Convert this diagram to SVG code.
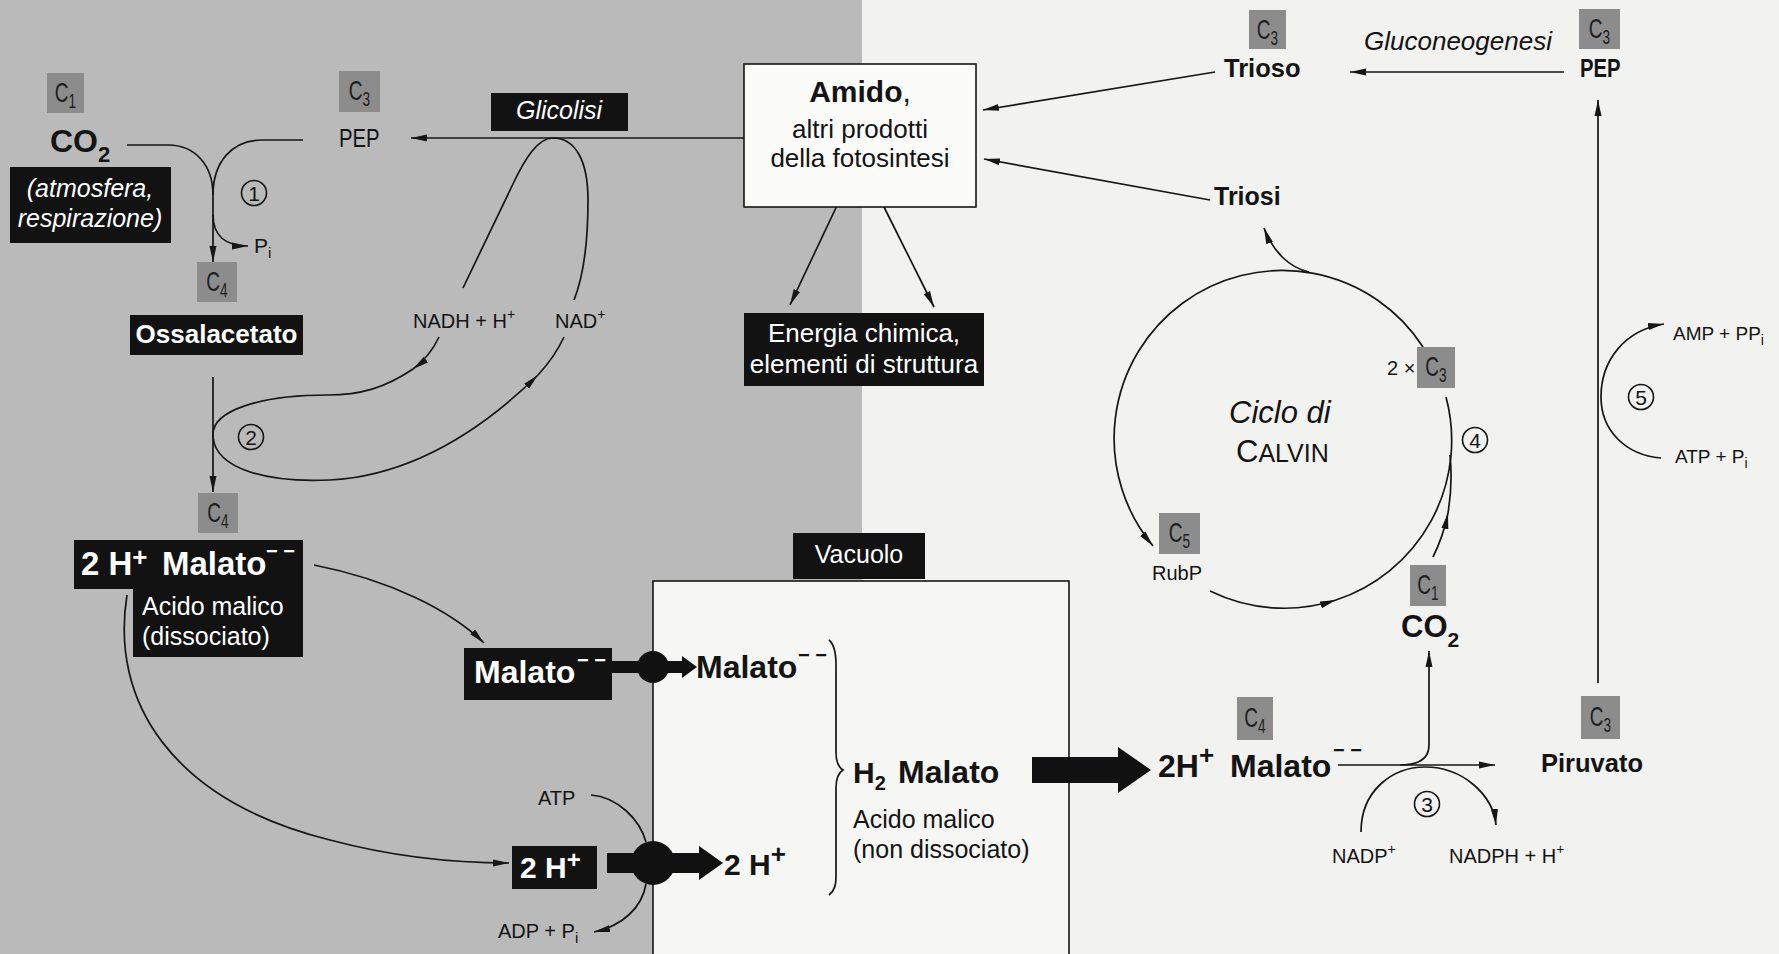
<svg xmlns="http://www.w3.org/2000/svg" width="1779" height="954" viewBox="0 0 1779 954">
  <style>
    text { font-family: "Liberation Sans", Arial, sans-serif; fill: #141414; }
    .b { font-weight: bold; }
    .i { font-style: italic; }
    .w { fill: #ffffff; }
    .cbox { fill: #8c8c8c; }
    .blk { fill: #121212; }
    .cl { font-size: 28px; fill: #1e1e1e; }
    .ln { fill: none; stroke: #161616; stroke-width: 1.7; }
    .arr { marker-end: url(#ah); }
    .num { fill: none; stroke: #161616; stroke-width: 1.6; }
    .nt { font-size: 21px; text-anchor: middle; }
    .sm { font-size: 20px; }
  </style>
  <defs>
    <marker id="ah" viewBox="0 0 16 8" refX="16" refY="4" markerWidth="16" markerHeight="8" orient="auto" markerUnits="userSpaceOnUse">
      <path d="M0,0.5 L16,4 L0,7.5 Z" fill="#161616"/>
    </marker>
  </defs>

  <!-- backgrounds: cytoplasm (grey) and chloroplast side (white) -->
  <rect x="0" y="0" width="1779" height="954" fill="#f2f2f0"/>
  <rect x="0" y="0" width="862" height="954" fill="#bababa"/>

  <!-- vacuole -->
  <g id="vacuole">
    <rect x="653" y="581" width="416" height="390" fill="#f6f6f4" stroke="#161616" stroke-width="1.6"/>
    <rect x="793" y="533" width="132" height="46" class="blk"/>
    <text x="859" y="563" font-size="25" text-anchor="middle" class="w">Vacuolo</text>
  </g>

  <!-- connectors -->
  <g id="connectors">
    <!-- reaction 1: CO2 + PEP -> oxalacetate -->
    <path class="ln" d="M127,145 H168 C195,145 213,165 213,195"/>
    <path class="ln" d="M303,140 H262 C232,140 213,162 213,195"/>
    <path class="ln arr" d="M213,195 V262"/>
    <path class="ln arr" d="M213,215 C213,236 226,246 248,246"/>
    <!-- glycolysis -->
    <path class="ln arr" d="M744,138 H411"/>
    <path class="ln" d="M463,288 L512,186 C525,158 538,138 553,138 C575,138 588,160 588,200 C588,250 582,280 574,300"/>
    <!-- reaction 2: NADH loop -->
    <path class="ln arr" d="M439,337 C432,352 424,361 413,369"/>
    <path class="ln arr" d="M413,369 C385,388 360,395 328,395 C262,395 210,410 213,437 C216,470 270,483 330,480 C420,475 492,420 538,375"/>
    <path class="ln" d="M538,375 C550,362 558,350 564,337"/>
    <path class="ln arr" d="M213,377 V492"/>
    <!-- malate to transport -->
    <path class="ln arr" d="M314,565 C390,580 450,610 484,643"/>
    <path class="ln arr" d="M127,595 C110,700 170,800 330,840 C390,856 450,863 509,863"/>
    <!-- ATP driven proton pump -->
    <path class="ln" d="M591,795 C618,797 640,820 646,842"/>
    <path class="ln arr" d="M646,884 C642,908 622,926 594,932"/>
    <!-- starch -->
    <path class="ln arr" d="M842,195 L790,305"/>
    <path class="ln arr" d="M878,195 L934,307"/>
    <path class="ln arr" d="M1215,72 L983,110"/>
    <path class="ln arr" d="M1210,200 L984,159"/>
    <path class="ln arr" d="M1564,72 H1350"/>
    <!-- malate decarboxylation (3) -->
    <path class="ln arr" d="M1338,765 H1495"/>
    <path class="ln arr" d="M1400,765 C1420,765 1429,758 1429,745 V651"/>
    <path class="ln arr" d="M1361,832 C1361,790 1393,767 1425,767 C1463,767 1493,795 1496,825"/>
    <!-- pyruvate to PEP (5) -->
    <path class="ln arr" d="M1598,683 V100"/>
    <path class="ln arr" d="M1661,458 C1625,455 1601,430 1601,397 C1601,360 1625,330 1664,324"/>
    <!-- Calvin cycle -->
    <path class="ln arr" d="M1423,347 A168,168 0 1 0 1153,546"/>
    <path class="ln arr" d="M1210,591 A168,168 0 0 0 1336,600"/>
    <path class="ln" d="M1336,600 A168,168 0 0 0 1446,397"/>
    <path class="ln arr" d="M1309,272 C1290,268 1273,252 1264,228"/>
    <path class="ln arr" d="M1433,557 C1440,543 1445,528 1448,513"/>
    <path class="ln" d="M1448,513 C1451,495 1452,475 1450,455"/>
    <!-- membrane transport -->
    <path d="M612,661 H682 V656 L697,667 L682,678 V673 H612 Z" fill="#111"/>
    <circle cx="653" cy="667" r="16" fill="#111"/>
    <path d="M607,853 H699 V846 L723,863 L699,880 V873 H607 Z" fill="#111"/>
    <circle cx="653" cy="863" r="22" fill="#111"/>
    <path d="M1032,757 H1118 V747 L1151,770 L1118,793 V783 H1032 Z" fill="#111"/>
    <!-- brace -->
    <path class="ln" stroke-width="2" d="M829,640 C835,645 836,655 836,665 L836,752 C836,762 838,767 843,770 C838,773 836,778 836,788 L836,875 C836,885 835,890 829,895"/>
  </g>

  <!-- reaction numbers -->
  <g id="step1"><circle class="num" cx="254" cy="193" r="12.5"/><text class="nt" x="254" y="200.5">1</text></g>
  <g id="step2"><circle class="num" cx="251" cy="437" r="12.5"/><text class="nt" x="251" y="444.5">2</text></g>
  <g id="step3"><circle class="num" cx="1427" cy="804" r="12.5"/><text class="nt" x="1427" y="811.5">3</text></g>
  <g id="step4"><circle class="num" cx="1475" cy="440" r="12.5"/><text class="nt" x="1475" y="447.5">4</text></g>
  <g id="step5"><circle class="num" cx="1641" cy="397" r="12.5"/><text class="nt" x="1641" y="404.5">5</text></g>

  <!-- CO2 (atmosphere) -->
  <g id="co2-left">
    <rect class="cbox" x="47" y="73" width="37" height="40"/>
    <text class="cl" transform="translate(65.5,102) scale(0.68,1)" text-anchor="middle">C<tspan dy="6" font-size="20">1</tspan></text>
    <text x="50" y="152" class="b" font-size="32">CO<tspan dy="10" font-size="22">2</tspan></text>
    <rect class="blk" x="10" y="167" width="161" height="76"/>
    <text x="90" y="197" font-size="25" text-anchor="middle" class="w i">(atmosfera,</text>
    <text x="90" y="227" font-size="25" text-anchor="middle" class="w i">respirazione)</text>
  </g>

  <g id="pep-left">
    <rect class="cbox" x="339" y="71" width="41" height="41"/>
    <text class="cl" transform="translate(359.5,100) scale(0.68,1)" text-anchor="middle">C<tspan dy="6" font-size="20">3</tspan></text>
    <text transform="translate(339,147) scale(0.78,1)" font-size="26">PEP</text>
  </g>

  <g id="pi-1">
    <text x="254" y="253" font-size="21">P<tspan dy="5" font-size="15">i</tspan></text>
  </g>

  <g id="glicolisi">
    <rect class="blk" x="491" y="93" width="137" height="38"/>
    <text x="559" y="119" font-size="25" text-anchor="middle" class="w i">Glicolisi</text>
  </g>

  <g id="nadh">
    <text x="413" y="328" class="sm">NADH + H<tspan dy="-9" font-size="14">+</tspan></text>
  </g>
  <g id="nad">
    <text x="555" y="328" class="sm">NAD<tspan dy="-9" font-size="14">+</tspan></text>
  </g>

  <g id="ossalacetato">
    <rect class="cbox" x="197" y="262" width="40" height="40"/>
    <text class="cl" transform="translate(217,291) scale(0.68,1)" text-anchor="middle">C<tspan dy="6" font-size="20">4</tspan></text>
    <rect class="blk" x="130" y="315" width="173" height="40"/>
    <text x="216.5" y="343" font-size="26" text-anchor="middle" class="w b">Ossalacetato</text>
  </g>

  <g id="malato-cyto">
    <rect class="cbox" x="198" y="493" width="40" height="40"/>
    <text class="cl" transform="translate(218,522) scale(0.68,1)" text-anchor="middle">C<tspan dy="6" font-size="20">4</tspan></text>
    <path class="blk" d="M74,540 H303 V657 H133 V589 H74 Z"/>
    <text x="81" y="575" font-size="33" class="w b">2 H<tspan dy="-9" font-size="26">+</tspan></text>
    <text x="162" y="575" font-size="33" class="w b">Malato</text>
    <text x="266" y="558" font-size="20" class="w b">− −</text>
    <text x="142" y="615" font-size="25" class="w">Acido malico</text>
    <text x="142" y="645" font-size="25" class="w">(dissociato)</text>
  </g>

  <g id="malato-transport">
    <rect class="blk" x="464" y="648" width="148" height="52"/>
    <text x="474" y="683" font-size="32" class="w b">Malato</text>
    <text x="577" y="667" font-size="20" class="w b">− −</text>
  </g>

  <g id="protons-cyto">
    <text x="538" y="805" class="sm">ATP</text>
    <text x="498" y="938" class="sm">ADP + P<tspan dy="5" font-size="15">i</tspan></text>
    <rect class="blk" x="512" y="846" width="85" height="43"/>
    <text x="520" y="878" font-size="30" class="w b">2 H<tspan dy="-10" font-size="24">+</tspan></text>
  </g>

  <g id="vacuole-content">
    <text x="696" y="678" font-size="32" class="b">Malato</text>
    <text x="798" y="662" font-size="20" class="b">− −</text>
    <text x="724" y="875" font-size="30" class="b">2 H<tspan dy="-12" font-size="26">+</tspan></text>
    <text x="853" y="783" font-size="30" class="b">H<tspan dy="7" font-size="20">2</tspan><tspan x="898" y="783" font-size="32">Malato</tspan></text>
    <text x="853" y="828" font-size="25">Acido malico</text>
    <text x="853" y="858" font-size="25">(non dissociato)</text>
  </g>

  <g id="amido">
    <rect x="744" y="64" width="232" height="143" fill="#fbfbfa" stroke="#161616" stroke-width="1.6"/>
    <text x="860" y="102" font-size="30" text-anchor="middle"><tspan class="b">Amido</tspan>,</text>
    <text x="860" y="138" font-size="26" text-anchor="middle">altri prodotti</text>
    <text x="860" y="167" font-size="26" text-anchor="middle">della fotosintesi</text>
  </g>

  <g id="energia">
    <rect class="blk" x="744" y="313" width="240" height="73"/>
    <text x="864" y="342" font-size="26" text-anchor="middle" class="w">Energia chimica,</text>
    <text x="864" y="373" font-size="26" text-anchor="middle" class="w">elementi di struttura</text>
  </g>

  <g id="trioso">
    <rect class="cbox" x="1249" y="10" width="37" height="39"/>
    <text class="cl" transform="translate(1267.5,39) scale(0.68,1)" text-anchor="middle">C<tspan dy="6" font-size="20">3</tspan></text>
    <text x="1224" y="77" font-size="25.5" class="b">Trioso</text>
  </g>

  <g id="gluconeogenesi">
    <text x="1364" y="50" font-size="26" class="i">Gluconeogenesi</text>
  </g>

  <g id="pep-right">
    <rect class="cbox" x="1579" y="9" width="41" height="40"/>
    <text class="cl" transform="translate(1599.5,38) scale(0.68,1)" text-anchor="middle">C<tspan dy="6" font-size="20">3</tspan></text>
    <text transform="translate(1580,77) scale(0.78,1)" font-size="26" class="b">PEP</text>
  </g>

  <g id="triosi">
    <text x="1214" y="205" font-size="25" class="b">Triosi</text>
  </g>

  <g id="calvin">
    <text x="1229" y="423" font-size="31" class="i">Ciclo di</text>
    <text x="1236" y="462" font-size="31">C<tspan font-size="25">ALVIN</tspan></text>
  </g>

  <g id="c3-calvin">
    <text x="1387" y="375" class="sm">2 ×</text>
    <rect class="cbox" x="1417" y="347" width="38" height="41"/>
    <text class="cl" transform="translate(1436,376) scale(0.68,1)" text-anchor="middle">C<tspan dy="6" font-size="20">3</tspan></text>
  </g>

  <g id="rubp">
    <rect class="cbox" x="1159" y="513" width="41" height="41"/>
    <text class="cl" transform="translate(1179.5,542) scale(0.68,1)" text-anchor="middle">C<tspan dy="6" font-size="20">5</tspan></text>
    <text x="1152" y="580" font-size="20">RubP</text>
  </g>

  <g id="co2-right">
    <rect class="cbox" x="1410" y="565" width="36" height="41"/>
    <text class="cl" transform="translate(1428,594) scale(0.68,1)" text-anchor="middle">C<tspan dy="6" font-size="20">1</tspan></text>
    <text x="1401" y="637" font-size="31" class="b">CO<tspan dy="10" font-size="21">2</tspan></text>
  </g>

  <g id="malato-right">
    <rect class="cbox" x="1237" y="697" width="36" height="43"/>
    <text class="cl" transform="translate(1255,727) scale(0.68,1)" text-anchor="middle">C<tspan dy="6" font-size="20">4</tspan></text>
    <text x="1158" y="777" font-size="32" class="b">2H<tspan dy="-13" font-size="26">+</tspan></text>
    <text x="1230" y="777" font-size="32" class="b">Malato</text>
    <text x="1333" y="757" font-size="20" class="b">− −</text>
  </g>

  <g id="nadp">
    <text x="1332" y="863" class="sm">NADP<tspan dy="-9" font-size="14">+</tspan></text>
    <text x="1449" y="863" class="sm">NADPH + H<tspan dy="-9" font-size="14">+</tspan></text>
  </g>

  <g id="piruvato">
    <rect class="cbox" x="1581" y="696" width="39" height="43"/>
    <text class="cl" transform="translate(1600.5,726) scale(0.68,1)" text-anchor="middle">C<tspan dy="6" font-size="20">3</tspan></text>
    <text x="1541" y="772" font-size="25.5" class="b">Piruvato</text>
  </g>

  <g id="amp-atp">
    <text x="1673" y="340" font-size="19">AMP + PP<tspan dy="5" font-size="14">i</tspan></text>
    <text x="1675" y="463" font-size="19">ATP + P<tspan dy="5" font-size="14">i</tspan></text>
  </g>
</svg>
